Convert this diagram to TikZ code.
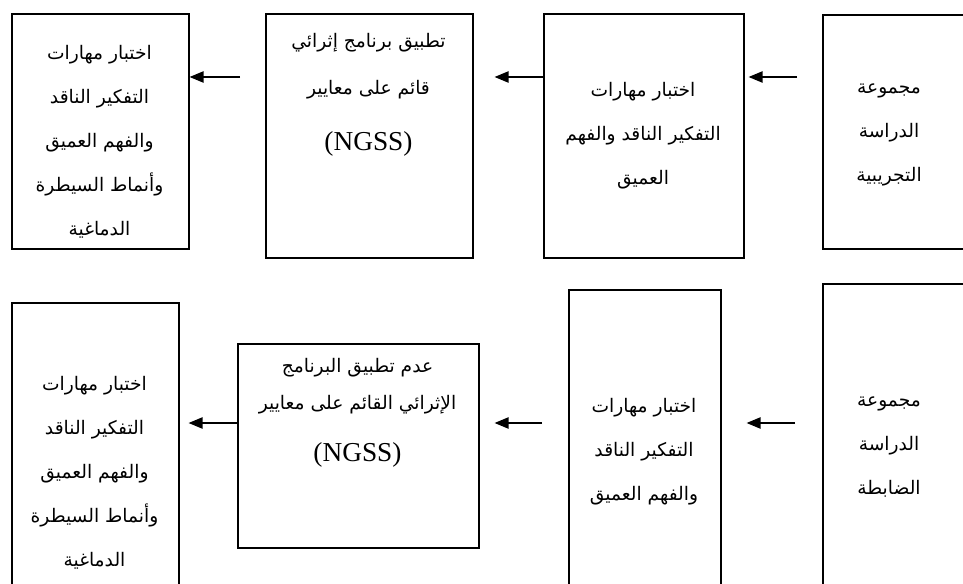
\documentclass[tikz,border=0pt]{standalone}
\usepackage{fontspec}
\setmainfont{Liberation Serif}
\newfontfamily\arabicfont[Script=Arabic]{DejaVu Sans}
\TeXXeTstate=1
\usetikzlibrary{arrows.meta, calc}
\newcommand{\artxt}[1]{\beginR #1\endR}
\tikzset{
  sbox/.style={draw=black, line width=1.2pt, rectangle, anchor=north west, inner sep=0pt},
  stxt/.style={align=center, inner sep=0pt, font=\arabicfont\fontsize{14}{33}\selectfont},
  slatin/.style={inner sep=0pt, font=\fontsize{20.5}{24}\selectfont},
  sflow/.style={-{Triangle[length=10.5pt, width=8.5pt]}, line width=1pt, black},
}

\begin{document}
\begin{tikzpicture}[x=0.75pt, y=-0.75pt]
    \useasboundingbox (0,0) rectangle (963,584);
    \clip (0,0) rectangle (963,584);
    \coordinate (row1) at (0,77);
    \coordinate (row2) at (0,423);
    % experimental group
    \node[sbox, minimum width=132.75pt, minimum height=176.25pt] (res1) at (11,13) {};
    \node[sbox, minimum width=155.25pt, minimum height=183pt] (prog1) at (265,13) {};
    \node[sbox, minimum width=150pt, minimum height=183pt] (pre1) at (543,13) {};
    \node[sbox, minimum width=127.5pt, minimum height=175.5pt] (grp1) at (822,14) {};
    \node[stxt] (res1t) at (99.5,141.5) {\artxt{اختبار مهارات}\\\artxt{التفكير الناقد}\\\artxt{والفهم العميق}\\\artxt{وأنماط السيطرة}\\\artxt{الدماغية}};
    \node[stxt, font=\arabicfont\fontsize{14}{35}\selectfont] (prog1t) at (368.5,66.5) {\artxt{تطبيق برنامج إثرائي}\\\artxt{قائم على معايير}};
    \node[slatin] (prog1n) at (368.5,143.5) {(NGSS)};
    \node[stxt] (pre1t) at (643,136) {\artxt{اختبار مهارات}\\\artxt{التفكير الناقد والفهم}\\\artxt{العميق}};
    \node[stxt] (grp1t) at (889,135) {\artxt{مجموعة}\\\artxt{الدراسة}\\\artxt{التجريبية}};
    \draw[sflow, shorten <=18.75pt] (prog1.west |- row1) -- (res1.east |- row1);
    \draw[sflow, shorten >=15.75pt] (pre1.west |- row1) -- (prog1.east |- row1);
    \draw[sflow, shorten <=18.75pt, shorten >=3pt] (grp1.west |- row1) -- (pre1.east |- row1);
    % control group
    \node[sbox, minimum width=125.25pt, minimum height=231pt] (res2) at (11,302) {};
    \node[sbox, minimum width=180.75pt, minimum height=153pt] (prog2) at (237,343) {};
    \node[sbox, minimum width=114pt, minimum height=240.75pt] (pre2) at (568,289) {};
    \node[sbox, minimum width=127.5pt, minimum height=245.25pt] (grp2) at (822,283) {};
    \node[stxt] (res2t) at (94.5,472.5) {\artxt{اختبار مهارات}\\\artxt{التفكير الناقد}\\\artxt{والفهم العميق}\\\artxt{وأنماط السيطرة}\\\artxt{الدماغية}};
    \node[stxt, font=\arabicfont\fontsize{14}{27.75}\selectfont] (prog2t) at (357.5,386.5) {\artxt{عدم تطبيق البرنامج}\\\artxt{الإثرائي القائم على معايير}};
    \node[slatin] (prog2n) at (357.5,455) {(NGSS)};
    \node[stxt] (pre2t) at (644,451.5) {\artxt{اختبار مهارات}\\\artxt{التفكير الناقد}\\\artxt{والفهم العميق}};
    \node[stxt] (grp2t) at (889,447.5) {\artxt{مجموعة}\\\artxt{الدراسة}\\\artxt{الضابطة}};
    \draw[sflow, shorten >=6.75pt] (prog2.west |- row2) -- (res2.east |- row2);
    \draw[sflow, shorten <=19.5pt, shorten >=11.25pt] (pre2.west |- row2) -- (prog2.east |- row2);
    \draw[sflow, shorten <=20.25pt, shorten >=18.75pt] (grp2.west |- row2) -- (pre2.east |- row2);
\end{tikzpicture}
\end{document}
